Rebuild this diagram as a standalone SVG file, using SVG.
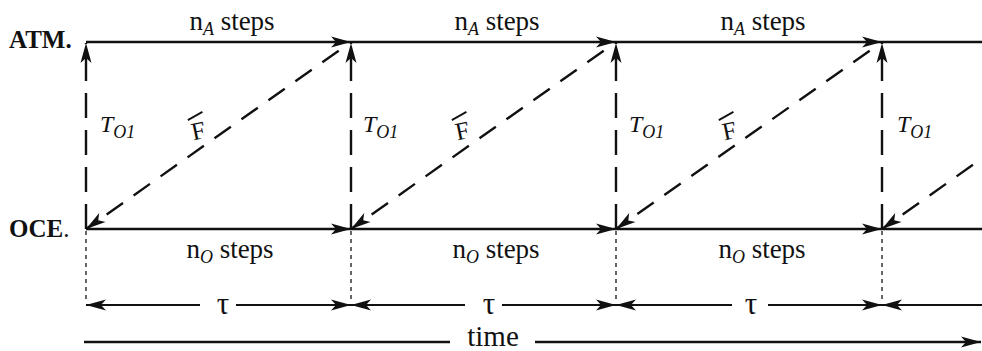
<svg xmlns="http://www.w3.org/2000/svg" width="982" height="351" viewBox="0 0 982 351">
<style>
text{font-family:"Liberation Serif","DejaVu Serif","Times New Roman",serif;fill:#111}
.lbl{font-size:25px;font-weight:bold}
.steps{font-size:27px}
.sub{font-size:18px;font-style:italic}
.ti{font-size:24px;font-style:italic}
.tsub{font-size:18px;font-style:italic}
.tau{font-size:31px}
.solid{stroke:#111;stroke-width:2.6;fill:none}
.dash{stroke:#111;stroke-width:2.4;fill:none;stroke-dasharray:25 12}
.diag{stroke:#111;stroke-width:2.4;fill:none;stroke-dasharray:20 13}
.dot{stroke:#555;stroke-width:1.8;fill:none;stroke-dasharray:4 4}
.thin{stroke:#111;stroke-width:2;fill:none}
</style>
<defs>
<marker id="ah" markerUnits="userSpaceOnUse" markerWidth="24" markerHeight="14" viewBox="-22 -7 24 14" refX="0" refY="0" orient="auto-start-reverse">
<path d="M0,0 L-20,-5.5 L-15,0 L-20,5.5 Z" fill="#111"/>
</marker>
</defs>
<rect width="982" height="351" fill="#fff"/>

<g id="atm"><text class="lbl" x="9" y="48">ATM.</text></g>
<g id="oce"><text class="lbl" x="9" y="237">OCE<tspan font-weight="normal">.</tspan></text></g>

<g id="connectors">
  <path class="solid" d="M86,42 H351" marker-end="url(#ah)"/>
  <path class="solid" d="M351,42 H616" marker-end="url(#ah)"/>
  <path class="solid" d="M616,42 H882" marker-end="url(#ah)"/>
  <path class="solid" d="M882,42 H982"/>
  <path class="solid" d="M86,229 H351" marker-end="url(#ah)"/>
  <path class="solid" d="M351,229 H616" marker-end="url(#ah)"/>
  <path class="solid" d="M616,229 H882" marker-end="url(#ah)"/>
  <path class="solid" d="M882,229 H982"/>
  <path class="dash" d="M86,229 V43" marker-end="url(#ah)"/>
  <path class="dash" d="M351,229 V43" marker-end="url(#ah)"/>
  <path class="dash" d="M616,229 V43" marker-end="url(#ah)"/>
  <path class="dash" d="M882,229 V43" marker-end="url(#ah)"/>
  <path class="diag" d="M338.7,50.7 L86,229" marker-end="url(#ah)"/>
  <path class="diag" d="M603.7,50.7 L351,229" marker-end="url(#ah)"/>
  <path class="diag" d="M869.7,50.7 L616,229" marker-end="url(#ah)"/>
  <path class="diag" d="M1134.7,50.7 L882,229" marker-end="url(#ah)"/>
  <path class="dot" d="M86,231 V303"/>
  <path class="dot" d="M351,231 V303"/>
  <path class="dot" d="M616,231 V303"/>
  <path class="dot" d="M882,231 V303"/>
  <path class="thin" d="M200,305 H86" marker-end="url(#ah)"/>
  <path class="thin" d="M236,305 H351" marker-end="url(#ah)"/>
  <path class="thin" d="M465,305 H351" marker-end="url(#ah)"/>
  <path class="thin" d="M502,305 H616" marker-end="url(#ah)"/>
  <path class="thin" d="M732,305 H616" marker-end="url(#ah)"/>
  <path class="thin" d="M768,305 H882" marker-end="url(#ah)"/>
  <path class="thin" d="M982,305 H882" marker-end="url(#ah)"/>
  <path class="solid" d="M84,342 H450"/>
  <path class="solid" d="M535,342 H981" marker-end="url(#ah)"/>
</g>

<g id="labels">
  <text class="steps" x="232" y="30" text-anchor="middle">n<tspan class="sub" dy="5">A</tspan><tspan dy="-5"> steps</tspan></text>
  <text class="steps" x="497" y="30" text-anchor="middle">n<tspan class="sub" dy="5">A</tspan><tspan dy="-5"> steps</tspan></text>
  <text class="steps" x="763" y="30" text-anchor="middle">n<tspan class="sub" dy="5">A</tspan><tspan dy="-5"> steps</tspan></text>

  <text class="steps" x="230" y="258" text-anchor="middle">n<tspan class="sub" dy="5">O</tspan><tspan dy="-5"> steps</tspan></text>
  <text class="steps" x="496" y="258" text-anchor="middle">n<tspan class="sub" dy="5">O</tspan><tspan dy="-5"> steps</tspan></text>
  <text class="steps" x="762" y="258" text-anchor="middle">n<tspan class="sub" dy="5">O</tspan><tspan dy="-5"> steps</tspan></text>

  <text class="ti" x="100" y="132">T<tspan class="tsub" dy="6">O1</tspan></text>
  <text class="ti" x="363" y="132">T<tspan class="tsub" dy="6">O1</tspan></text>
  <text class="ti" x="629" y="132">T<tspan class="tsub" dy="6">O1</tspan></text>
  <text class="ti" x="897" y="132">T<tspan class="tsub" dy="6">O1</tspan></text>

  <g transform="translate(200,139) rotate(-12)">
    <text x="0" y="0" font-size="25" text-anchor="middle">F</text>
    <line x1="-8" y1="-21" x2="8" y2="-26" stroke="#111" stroke-width="1.8"/>
  </g>
  <g transform="translate(464,139) rotate(-12)">
    <text x="0" y="0" font-size="25" text-anchor="middle">F</text>
    <line x1="-8" y1="-21" x2="8" y2="-26" stroke="#111" stroke-width="1.8"/>
  </g>
  <g transform="translate(731,139) rotate(-12)">
    <text x="0" y="0" font-size="25" text-anchor="middle">F</text>
    <line x1="-8" y1="-21" x2="8" y2="-26" stroke="#111" stroke-width="1.8"/>
  </g>

  <text class="tau" x="223" y="314" text-anchor="middle">τ</text>
  <text class="tau" x="489" y="314" text-anchor="middle">τ</text>
  <text class="tau" x="751" y="314" text-anchor="middle">τ</text>

  <text x="493" y="346" font-size="29" text-anchor="middle">time</text>
</g>
</svg>
